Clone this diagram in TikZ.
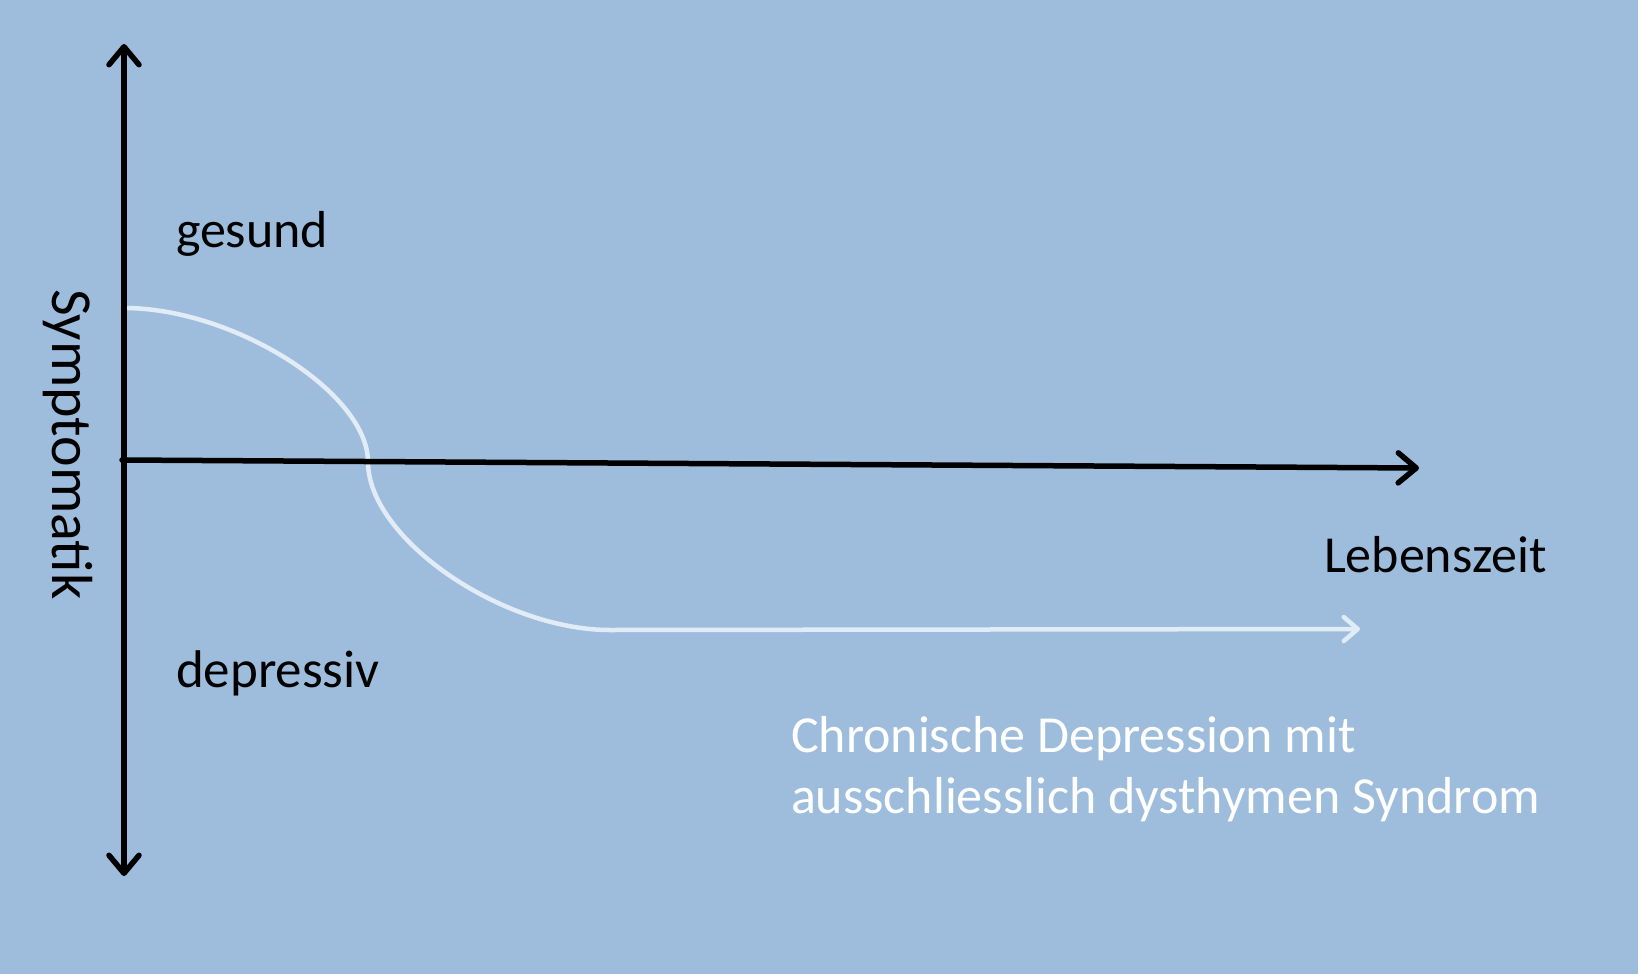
\documentclass[tikz,border=0pt]{standalone}
\usepackage{fontspec}
\setmainfont{Carlito}
\usetikzlibrary{arrows.meta}
\definecolor{bgblue}{RGB}{158,189,220}
\definecolor{curvewhite}{RGB}{226,236,246}
\begin{document}
\begin{tikzpicture}[x=1pt,y=-1pt,
  axisline/.style={line width=5.5pt, draw=black, line cap=round, line join=round},
  blackbarb/.style={-{Straight Barb[length=18pt,width=30pt,round]}},
  blackbarbs/.style={{Straight Barb[length=18pt,width=30pt,round]}-{Straight Barb[length=18pt,width=30pt,round]}},
  courseline/.style={line width=4.5pt, draw=curvewhite, line cap=round},
  whitebarb/.style={-{Straight Barb[length=14pt,width=24pt,round]}},
  lbl/.style={inner sep=0pt, outer sep=0pt, text=black},
  wlbl/.style={inner sep=0pt, outer sep=0pt, text=white}
]
\fill[bgblue] (0,0) rectangle (1638,974);
\useasboundingbox (0,0) rectangle (1638,974);

% coordinates
\coordinate (ytop) at (124,44);
\coordinate (ybot) at (124,876);
\coordinate (xstart) at (122,460);
\coordinate (xend) at (1419,468);
\coordinate (c0) at (124,308);
\coordinate (c1) at (368,462);
\coordinate (c2) at (610,630);
\coordinate (c3) at (1360,629);

% white course curve
\draw[courseline] (c0) .. controls (234,308) and (368,393) .. (c1)
  .. controls (368,538) and (501,630) .. (c2);
\draw[courseline, whitebarb] (c2) -- (c3);

% axes
\draw[axisline, blackbarbs] (ybot) -- (ytop);
\draw[axisline, blackbarb] (xstart) -- (xend);

% labels
\node[lbl, anchor=base west] (gesund) at (176,247) {\fontsize{52}{62}\selectfont gesund};
\node[lbl, anchor=base west] (depressiv) at (176,687) {\fontsize{53}{63}\selectfont depressiv};
\node[lbl, anchor=base west] (lebenszeit) at (1324,572) {\fontsize{52}{62}\selectfont Lebenszeit};
\node[lbl, anchor=base west, rotate=-90] (symptomatik) at (52,289) {\fontsize{58}{70}\selectfont Symptomatik};
\node[wlbl, anchor=base west] (chron1) at (791,752) {\fontsize{52}{61}\selectfont Chronische Depression mit};
\node[wlbl, anchor=base west] (chron2) at (791,813) {\fontsize{52}{61}\selectfont ausschliesslich dysthymen Syndrom};
\end{tikzpicture}
\end{document}
